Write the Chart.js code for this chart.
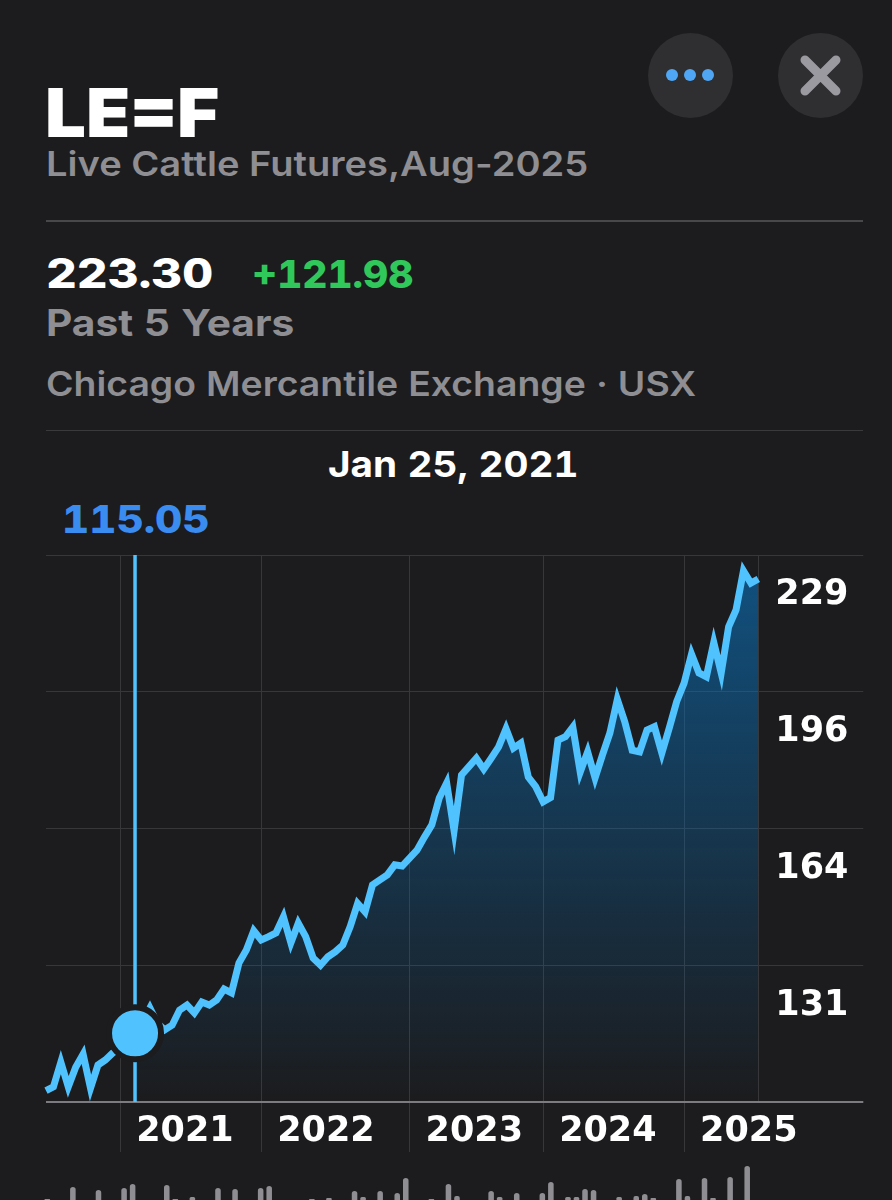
<!DOCTYPE html>
<html>
<head>
<meta charset="utf-8">
<title>LE=F</title>
<script src="https://cdn.jsdelivr.net/npm/chart.js@4"></script>
<style>
html, body { margin: 0; padding: 0; background: #1c1c1e; }
body { position: relative; width: 892px; height: 1200px; overflow: hidden; font-family: Inter, sans-serif; }
canvas { position: absolute; }
.txt { position: absolute; white-space: nowrap; line-height: 1; transform-origin: left top; font-variant-numeric: tabular-nums; }
.gray { color: #8e8e93; }
.rule { position: absolute; left: 46px; width: 817px; }
.btn { position: absolute; top: 33px; width: 85px; height: 85px; border-radius: 50%; background: #2f2f32; }
</style>
</head>
<body>

<div class="btn" style="left:648px">
  <svg width="85" height="85"><g fill="#4ea6f5"><circle cx="24" cy="42" r="6"/><circle cx="42" cy="42" r="6"/><circle cx="60" cy="42" r="6"/></g></svg>
</div>
<div class="btn" style="left:778px">
  <svg width="85" height="85"><path d="M27 27 L58 58 M58 27 L27 58" stroke="#9a9aa0" stroke-width="9" stroke-linecap="round"/></svg>
</div>

<div class="txt" style="left:45px;top:79px;font-size:67px;font-weight:900;color:#fff;transform:scaleX(1.08)">LE=F</div>
<div class="txt gray" style="left:46px;top:147px;font-size:34px;font-weight:600;font-variant-numeric:normal;transform:scaleX(1.12)">Live Cattle Futures,Aug-2025</div>
<div class="rule" style="top:220px;height:2px;background:#48484a"></div>
<div class="txt" style="left:46px;top:253px;font-size:41px;font-weight:800;color:#fff;transform:scaleX(1.165)">223.30</div>
<div class="txt" style="left:252px;top:255px;font-size:38px;font-weight:800;color:#30c85a;transform:scaleX(1.025)">+121.98</div>
<div class="txt gray" style="left:46px;top:304px;font-size:37px;font-weight:700;transform:scaleX(1.1)">Past 5 Years</div>
<div class="txt gray" style="left:46px;top:367px;font-size:34px;font-weight:600;transform:scaleX(1.1)">Chicago Mercantile Exchange · USX</div>
<div class="rule" style="top:430px;height:1px;background:#3a3a3c"></div>
<div class="txt" style="left:328px;top:446px;font-size:36px;font-weight:700;color:#fff;transform:scaleX(1.075)">Jan 25, 2021</div>
<div class="txt" style="left:62px;top:500px;font-size:38px;font-weight:800;color:#3b8cf0;transform:scaleX(1.11)">115.05</div>

<canvas id="priceChart" width="892" height="620" style="left:0;top:540px"></canvas>
<canvas id="volumeChart" width="717" height="40" style="left:43px;top:1160px"></canvas>

<script>
const categories = [
    "2020","2020","2020","2020","2020","2020","2020","2020","2020","2020",
    "2021","2021","2021","2021","2021","2021","2021","2021","2021","2021",
    "2021","2021","2021","2021","2021","2021","2021","2021","2021",
    "2022","2022","2022","2022","2022","2022","2022","2022","2022","2022",
    "2022","2022","2022","2022","2022","2022","2022","2022","2022","2022",
    "2023","2023","2023","2023","2023","2023","2023","2023","2023","2023",
    "2023","2023","2023","2023","2023","2023","2023","2023",
    "2024","2024","2024","2024","2024","2024","2024","2024","2024","2024",
    "2024","2024","2024","2024","2024","2024","2024","2024","2024",
    "2025","2025","2025","2025","2025","2025","2025","2025","2025","2025","2025"
]

const prices = [
    101.4,102.3,108.2,102.3,107.0,110.1,102.0,107.5,108.7,110.4,
    111.8,113.5,115.05,117.8,121.1,117.5,115.9,117.0,120.6,121.8,
    119.9,122.5,121.8,123.0,125.6,124.7,131.8,134.9,139.5,137.3,
    138.1,139.0,142.8,136.6,141.3,138.1,133.0,131.3,133.3,134.5,
    136.1,140.5,146.0,144.0,150.4,151.6,152.8,155.2,154.9,156.8,
    158.7,161.8,164.7,171.1,174.7,163.3,176.6,178.6,180.6,178.0,
    180.6,183.3,187.6,183.0,184.2,176.1,173.8,170.2,171.2,184.9,
    185.7,188.0,177.3,182.1,175.9,181.4,186.6,194.6,189.3,182.5,
    182.1,187.3,188.1,181.8,187.8,194.1,198.5,205.4,200.9,200.0,
    208.2,200.9,211.9,215.9,225.2,222.3,223.3
]

const volumes = [
    1,0,0,13,0,0,10,0,0,12,
    16,0,0,0,15,1,0,3,0,0,
    12,0,11,0,0,12,14,0,0,0,
    0,1,0,2,0,0,9,3,0,9,
    0,7,22,0,0,1,0,16,4,0,
    0,0,9,3,0,7,0,0,7,18,
    0,3,3,11,10,0,0,3,0,4,
    6,2,0,0,21,4,0,22,2,0,
    23,0,34,0
]

const yearLabels = ["2021","2022","2023","2024","2025"]
const yTicks = [229,196.4,163.8,131.2,98.7]
const yTickLabels = ["229","196","164","131",""]
const selectedIndex = 12

const background = "#1c1c1e"
const lineColor = "#50c2fd"
const gridColor = "#37373a"
const axisColor = "#7c7c80"

const yearStarts = yearLabels.map((year) => categories.indexOf(year))
const lastIndex = categories.length - 1

function areaGradient(context) {
    const area = context.chart.chartArea
    if (!area) return "transparent"
    const gradient = context.chart.ctx.createLinearGradient(0, area.top, 0, area.bottom)
    gradient.addColorStop(0, "rgba(10,115,190,0.62)")
    gradient.addColorStop(1, "rgba(10,115,190,0)")
    return gradient
}

// vertical line at the selected point, sits under the marker
const cursorLine = {
    id: "cursorLine",
    afterDatasetDraw(chart, args) {
        if (args.index != 1) return
        const x = chart.scales.x.getPixelForValue(selectedIndex)
        const ctx = chart.ctx
        ctx.save()
        ctx.strokeStyle = lineColor
        ctx.lineWidth = 3.5
        ctx.beginPath()
        ctx.moveTo(x, chart.chartArea.top)
        ctx.lineTo(x, chart.chartArea.bottom)
        ctx.stroke()
        ctx.restore()
    }
}

new Chart(document.getElementById("priceChart"), {
    type: "line",
    data: {
        labels: categories,
        datasets: [
            {
                // lowest layer: area under the line, only right of the selected point
                order: 3,
                data: prices.map((v, i) => (i >= selectedIndex ? v : null)),
                borderWidth: 0,
                pointRadius: 0,
                fill: "start",
                backgroundColor: areaGradient
            },
            {
                order: 2,
                data: prices,
                borderColor: lineColor,
                borderWidth: 7,
                borderJoinStyle: "miter",
                pointRadius: 0,
                tension: 0,
                fill: false
            },
            {
                order: 1,
                data: prices.map((v, i) => (i == selectedIndex ? v : null)),
                showLine: false,
                pointRadius: 26,
                pointBorderWidth: 6,
                pointBackgroundColor: lineColor,
                pointBorderColor: background
            }
        ]
    },
    options: {
        responsive: false,
        animation: false,
        layout: { autoPadding: false, padding: { left: 46, top: 15, right: 0, bottom: 0 } },
        plugins: { legend: { display: false }, tooltip: { enabled: false } },
        scales: {
            x: {
                type: "category",
                border: { display: false },
                afterBuildTicks: (scale) => {
                    scale.ticks = yearStarts.concat([lastIndex]).map((i) => ({ value: i }))
                },
                afterFit: (scale) => { scale.height = 58 },
                grid: {
                    color: gridColor,
                    tickLength: 50,
                    tickColor: (ctx) => (ctx.tick && ctx.tick.value == lastIndex ? "transparent" : gridColor)
                },
                ticks: {
                    autoSkip: false,
                    maxRotation: 0,
                    minRotation: 0,
                    align: "start",
                    labelOffset: 16,
                    padding: -41,
                    color: "#ffffff",
                    font: { family: "DejaVu Sans", size: 35, weight: "700" },
                    callback: (value, index) => (yearLabels[index] || "")
                }
            },
            y: {
                position: "right",
                min: 98.7,
                max: 229,
                border: { display: false },
                afterBuildTicks: (scale) => {
                    scale.ticks = yTicks.map((v) => ({ value: v }))
                },
                afterFit: (scale) => { scale.width = 133.7 },
                grid: {
                    color: (ctx) => (ctx.tick && ctx.tick.value == yTicks[4] ? axisColor : gridColor),
                    lineWidth: (ctx) => (ctx.tick && ctx.tick.value == yTicks[4] ? 2 : 1),
                    tickLength: 105,
                    tickColor: (ctx) => (ctx.tick && ctx.tick.value == yTicks[4] ? axisColor : gridColor)
                },
                ticks: {
                    autoSkip: false,
                    labelOffset: 40,
                    padding: -88,
                    color: "#ffffff",
                    font: { family: "DejaVu Sans", size: 35, weight: "700" },
                    callback: (value, index) => yTickLabels[index]
                }
            }
        }
    },
    plugins: [cursorLine]
})

new Chart(document.getElementById("volumeChart"), {
    type: "bar",
    data: {
        labels: volumes.map((v, i) => i),
        datasets: [{
            data: volumes,
            backgroundColor: "#8e8e93",
            borderRadius: { topLeft: 3, topRight: 3 },
            borderSkipped: "bottom",
            categoryPercentage: 1,
            barPercentage: 0.65
        }]
    },
    options: {
        responsive: false,
        animation: false,
        layout: { autoPadding: false },
        plugins: { legend: { display: false }, tooltip: { enabled: false } },
        scales: {
            x: { display: false },
            y: { display: false, min: 0, max: 40 }
        }
    }
})
</script>
</body>
</html>
